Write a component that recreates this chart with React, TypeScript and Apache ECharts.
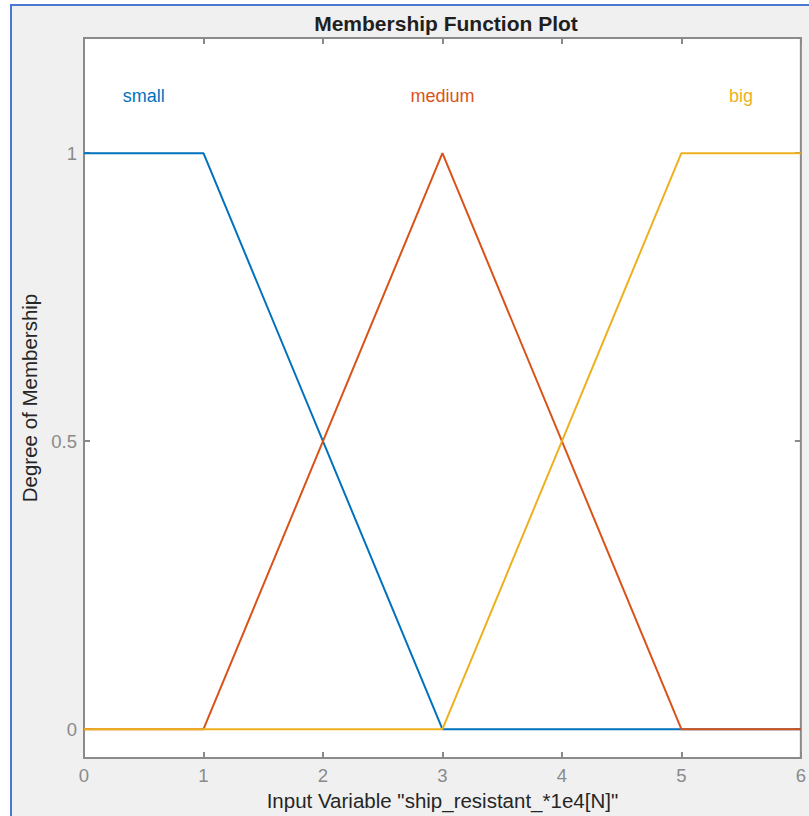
import React, { useEffect, useRef } from "react";
import * as echarts from "echarts";

const xTicks = [0, 1, 2, 3, 4, 5, 6];
const yTicks = [0, 0.5, 1];
const smallData: [number, number][] = [[0, 1], [1, 1], [3, 0], [6, 0]];
const mediumData: [number, number][] = [[0, 0], [1, 0], [3, 1], [5, 0], [6, 0]];
const bigData: [number, number][] = [[0, 0], [3, 0], [5, 1], [6, 1]];
const mfNames = ["small", "medium", "big"];
const mfLabelX = [0.5, 3, 5.5];
const mfLabelY = 1.1;

const colors = ["#0072BD", "#D95319", "#EDB120"];
const FONT = "Arial, 'Liberation Sans', Helvetica, sans-serif";

export default function App() {
  const ref = useRef<HTMLDivElement>(null);
  useEffect(() => {
    if (!ref.current) return;
    const chart = echarts.init(ref.current, undefined, { renderer: "svg" });
    const datasets = [smallData, mediumData, bigData];
    const series: any[] = datasets.map((d, i) => ({
      type: "line",
      name: mfNames[i],
      data: d,
      showSymbol: false,
      symbol: "none",
      lineStyle: { color: colors[i], width: 2 },
      itemStyle: { color: colors[i] },
      z: 3,
      markPoint: {
        symbol: "circle",
        symbolSize: 0,
        silent: true,
        data: [{ coord: [mfLabelX[i], mfLabelY], value: mfNames[i] }],
        label: {
          show: true,
          position: "inside",
          formatter: mfNames[i],
          color: colors[i],
          fontSize: 18,
          fontFamily: FONT,
        },
      },
    }));
    const tickColor = "#8a8a8a";
    const tickLabel = { fontSize: 18.5, color: "#8a8a8a", fontFamily: FONT };
    const tick = (custom?: number[]) => ({
      show: true,
      inside: true,
      length: 6,
      ...(custom ? { customValues: custom } : {}),
      lineStyle: { color: tickColor, width: 2 },
    });
    chart.setOption({
      animation: false,
      backgroundColor: "#ffffff",
      textStyle: { fontFamily: FONT },
      title: {
        text: "Membership Function Plot",
        left: 441,
        top: 8,
        textAlign: "center",
        textStyle: { fontSize: 21, fontWeight: "bold", color: "#1f1f1f", fontFamily: FONT },
      },
      graphic: [
        { type: "rect", z: -10, shape: { x: 12, y: 6, width: 800, height: 812 }, style: { fill: "#f0f0f0" } },
        { type: "line", z: -9, shape: { x1: 11, y1: 5, x2: 11, y2: 816 }, style: { stroke: "#4a78d0", lineWidth: 2 } },
        { type: "line", z: -9, shape: { x1: 10, y1: 5, x2: 809, y2: 5 }, style: { stroke: "#4a78d0", lineWidth: 2 } },
      ],
      grid: {
        left: 84,
        top: 38,
        right: 8,
        bottom: 58,
        show: true,
        backgroundColor: "#ffffff",
        borderColor: "#8a8a8a",
        borderWidth: 2,
        containLabel: false,
      },
      xAxis: [
        {
          type: "value",
          min: 0,
          max: 6,
          interval: 1,
          position: "bottom",
          name: 'Input Variable "ship_resistant_*1e4[N]"',
          nameLocation: "middle",
          nameGap: 31,
          nameTextStyle: { fontSize: 20.5, color: "#262626", fontFamily: FONT },
          axisLine: { show: false, onZero: false },
          axisTick: tick(),
          axisLabel: { ...tickLabel, margin: 8 },
          splitLine: { show: false },
        },
        {
          type: "value",
          min: 0,
          max: 6,
          interval: 1,
          position: "top",
          axisLine: { show: false, onZero: false },
          axisTick: tick(),
          axisLabel: { show: false },
          splitLine: { show: false },
        },
      ],
      yAxis: [
        {
          type: "value",
          min: -0.05,
          max: 1.2,
          position: "left",
          axisLine: { show: false, onZero: false },
          axisTick: tick(yTicks),
          axisLabel: { ...tickLabel, margin: 7, customValues: yTicks },
          splitLine: { show: false },
          name: "Degree of Membership",
          nameLocation: "middle",
          nameGap: 38,
          nameTextStyle: { fontSize: 20.5, color: "#262626", fontFamily: FONT },
        },
        {
          type: "value",
          min: -0.05,
          max: 1.2,
          position: "right",
          axisLine: { show: false, onZero: false },
          axisTick: tick(yTicks),
          axisLabel: { show: false },
          splitLine: { show: false },
        },
      ],
      series,
    });
    return () => chart.dispose();
  }, []);
  return (
    <div
      ref={ref}
      style={{ position: "absolute", left: 0, top: 0, width: 809, height: 816 }}
    />
  );
}
